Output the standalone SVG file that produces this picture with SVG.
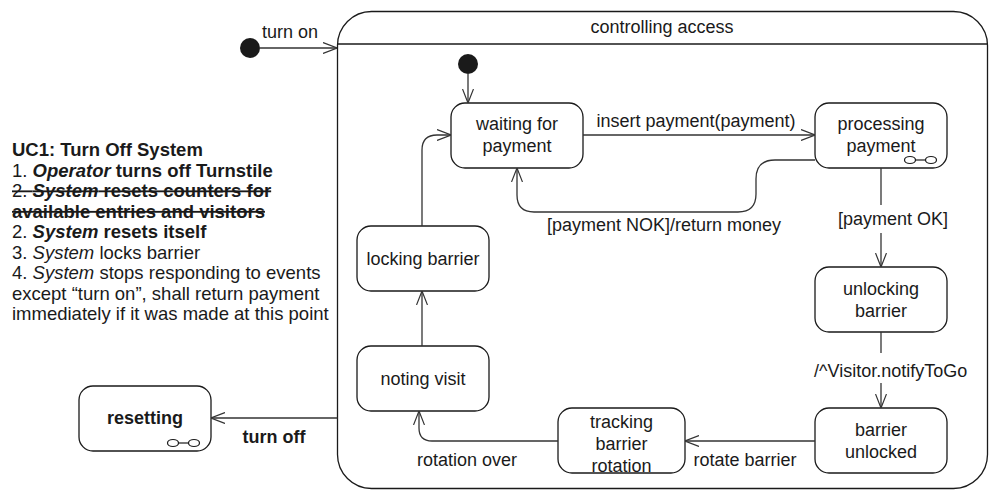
<svg xmlns="http://www.w3.org/2000/svg" width="994" height="490" viewBox="0 0 994 490">
  <defs>
    <style>
      text { font-family: "Liberation Sans", Arial, sans-serif; font-size: 18px; fill: #1a1a1a; }
      .note { font-size: 18.5px; }
      .c { text-anchor: middle; }
      .b { font-weight: bold; }
      .i { font-style: italic; }
      .bi { font-weight: bold; font-style: italic; }
      .s { text-decoration: line-through; }
      .state { fill: #fff; stroke: #1a1a1a; stroke-width: 1.3; }
      .edge { fill: none; stroke: #333; stroke-width: 1.3; }
      .dot { fill: #1a1a1a; }
      .icon { fill: #fff; stroke: #1a1a1a; stroke-width: 1.2; }
    </style>
    <marker id="arr" viewBox="0 0 14 12" refX="14" refY="6" markerWidth="14" markerHeight="12" markerUnits="userSpaceOnUse" orient="auto">
      <path d="M0,0.5 L14,6 L0,11.5" fill="none" stroke="#333" stroke-width="1.2"/>
    </marker>
    <g id="compIcon">
      <ellipse cx="0" cy="0" rx="5.5" ry="3.5" class="icon"/>
      <ellipse cx="21" cy="0" rx="5.5" ry="3.5" class="icon"/>
      <line x1="5.5" y1="0" x2="15.5" y2="0" stroke="#1a1a1a" stroke-width="1.2"/>
    </g>
  </defs>

  <rect width="994" height="490" fill="#fff"/>

  <!-- use case notes -->
  <g id="notes" class="note">
    <text x="12" y="156" class="note b">UC1: Turn Off System</text>
    <text x="12" y="176.5" class="note">1. <tspan class="bi">Operator</tspan><tspan class="b"> turns off Turnstile</tspan></text>
    <text x="12" y="197" class="note s">2. <tspan class="bi">System</tspan><tspan class="b"> resets counters for</tspan></text>
    <text x="12" y="217.5" class="note b s">available entries and visitors</text>
    <text x="12" y="238" class="note">2. <tspan class="bi">System</tspan><tspan class="b"> resets itself</tspan></text>
    <text x="12" y="258.5" class="note">3. <tspan class="i">System</tspan> locks barrier</text>
    <text x="12" y="279" class="note">4. <tspan class="i">System</tspan> stops responding to events</text>
    <text x="12" y="299.5" class="note">except “turn on”, shall return payment</text>
    <text x="12" y="320" class="note">immediately if it was made at this point</text>
  </g>

  <!-- composite state -->
  <g id="controlling-access">
    <rect x="337.5" y="11.5" width="650" height="477" rx="34" class="state"/>
    <line x1="337.5" y1="44" x2="987.5" y2="44" stroke="#1a1a1a" stroke-width="1.3"/>
    <text x="662" y="33" class="c">controlling access</text>
  </g>

  <g id="initial-outer"><circle cx="250" cy="48" r="10" class="dot"/></g>
  <g id="initial-inner"><circle cx="468" cy="64" r="10" class="dot"/></g>

  <g id="waiting-for-payment">
    <rect x="451" y="103" width="132" height="65" rx="14" class="state"/>
    <text x="517" y="130" class="c">waiting for</text>
    <text x="517" y="152" class="c">payment</text>
  </g>

  <g id="processing-payment">
    <rect x="815" y="103" width="132" height="65" rx="14" class="state"/>
    <text x="881" y="130" class="c">processing</text>
    <text x="881" y="152" class="c">payment</text>
    <use href="#compIcon" x="910" y="160"/>
  </g>

  <g id="unlocking-barrier">
    <rect x="815" y="267" width="132" height="65" rx="14" class="state"/>
    <text x="881" y="295" class="c">unlocking</text>
    <text x="881" y="317" class="c">barrier</text>
  </g>

  <g id="barrier-unlocked">
    <rect x="815" y="408" width="132" height="65" rx="14" class="state"/>
    <text x="881" y="436" class="c">barrier</text>
    <text x="881" y="458" class="c">unlocked</text>
  </g>

  <g id="tracking-barrier-rotation">
    <rect x="558" y="408" width="127" height="65" rx="14" class="state"/>
    <text x="621.5" y="428" class="c">tracking</text>
    <text x="621.5" y="450" class="c">barrier</text>
    <text x="621.5" y="472" class="c">rotation</text>
  </g>

  <g id="noting-visit">
    <rect x="357" y="346" width="132" height="65" rx="14" class="state"/>
    <text x="423" y="385" class="c">noting visit</text>
  </g>

  <g id="locking-barrier">
    <rect x="357" y="226" width="132" height="65" rx="14" class="state"/>
    <text x="423" y="265" class="c">locking barrier</text>
  </g>

  <g id="resetting">
    <rect x="79" y="386" width="132" height="65" rx="14" class="state"/>
    <text x="145" y="424" class="c b">resetting</text>
    <use href="#compIcon" x="173" y="443"/>
  </g>

  <!-- transitions -->
  <g id="connectors">
    <path d="M260,48 H337" class="edge" marker-end="url(#arr)"/>
    <path d="M468,74 V103" class="edge" marker-end="url(#arr)"/>
    <path d="M583,135 H815" class="edge" marker-end="url(#arr)"/>
    <path d="M815,160 H775 Q756,160 756,179 V194 Q756,212 738,212 H534 Q517,212 517,195 V168" class="edge" marker-end="url(#arr)"/>
    <path d="M881,168 V205" class="edge"/>
    <path d="M881,233 V267" class="edge" marker-end="url(#arr)"/>
    <path d="M881,332 V353" class="edge"/>
    <path d="M881,383 V408" class="edge" marker-end="url(#arr)"/>
    <path d="M815,441 H685" class="edge" marker-end="url(#arr)"/>
    <path d="M558,441 H432 Q419,441 419,428 V411" class="edge" marker-end="url(#arr)"/>
    <path d="M422,346 V291" class="edge" marker-end="url(#arr)"/>
    <path d="M422,226 V150 Q422,135 437,135 H451" class="edge" marker-end="url(#arr)"/>
    <path d="M337.5,418 H211" class="edge" marker-end="url(#arr)"/>

    <text x="262" y="38">turn on</text>
    <text x="696" y="127" class="c">insert payment(payment)</text>
    <text x="664" y="231" class="c">[payment NOK]/return money</text>
    <text x="838" y="225">[payment OK]</text>
    <text x="814" y="377">/^Visitor.notifyToGo</text>
    <text x="745" y="466" class="c">rotate barrier</text>
    <text x="467" y="466" class="c">rotation over</text>
    <text x="274" y="443" class="c b">turn off</text>
  </g>
</svg>
